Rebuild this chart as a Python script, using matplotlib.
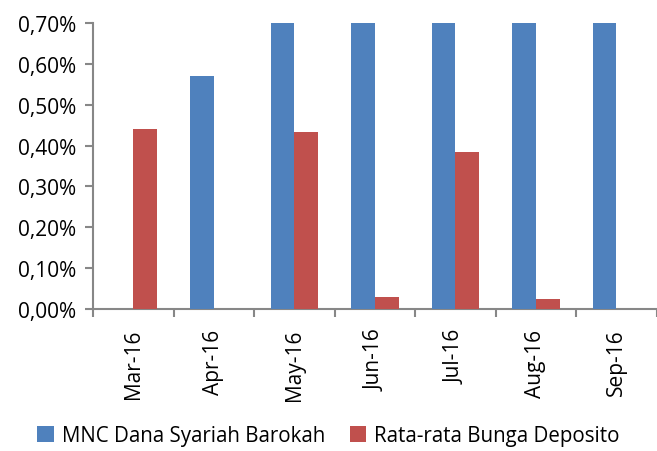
import matplotlib
matplotlib.use("Agg")
import matplotlib.pyplot as plt
import numpy as np
from matplotlib.ticker import FuncFormatter

# data (values in %)
months = ['Mar-16', 'Apr-16', 'May-16', 'Jun-16', 'Jul-16', 'Aug-16', 'Sep-16']
mnc_barokah = [0.0, 0.57, 0.70, 0.70, 0.70, 0.70, 0.70]
bunga_deposito = [0.44, -0.002, 0.433, 0.03, 0.385, 0.025, 0.0]

plt.rcParams['font.family'] = ['Open Sans', 'DejaVu Sans']

fig = plt.figure(figsize=(6.57, 4.52), dpi=100)
ax = fig.add_axes([0.1416, 0.314, 0.858, 0.633])

x = np.arange(len(months))
w = 0.295
ax.bar(x - w / 2, mnc_barokah, w, color='#4f81bd', label='MNC Dana Syariah Barokah')
ax.bar(x + w / 2, bunga_deposito, w, color='#c0504d', label='Rata-rata Bunga Deposito')

ax.set_xlim(-0.5, len(months) - 0.5)
ax.set_ylim(0, 0.70)
ax.set_yticks(np.arange(0, 0.71, 0.10))
ax.yaxis.set_major_formatter(FuncFormatter(lambda v, p: f'{v:.2f}%'.replace('.', ',')))

# category ticks at boundaries, labels centred
ax.set_xticks(np.arange(-0.5, len(months), 1.0))
ax.set_xticklabels([])
ax.set_xticks(x, minor=True)
ax.set_xticklabels(months, minor=True, rotation=90, fontsize=15)
ax.tick_params(axis='x', which='minor', length=0, pad=14)
ax.tick_params(axis='x', which='major', length=6, color='#878787', width=1.5)
ax.tick_params(axis='y', length=6, color='#878787', width=1.5, labelsize=15, pad=6)

for s in ['top', 'right']:
    ax.spines[s].set_visible(False)
for s in ['left', 'bottom']:
    ax.spines[s].set_color('#878787')
    ax.spines[s].set_linewidth(1.5)
ax.spines['bottom'].set_zorder(0)

fig.legend(loc='lower center', bbox_to_anchor=(0.5, -0.03), ncol=2, frameon=False,
           fontsize=14.8, handlelength=0.8, handleheight=0.8, handletextpad=0.4,
           columnspacing=1.2)

fig.savefig('out.png', dpi=100)
